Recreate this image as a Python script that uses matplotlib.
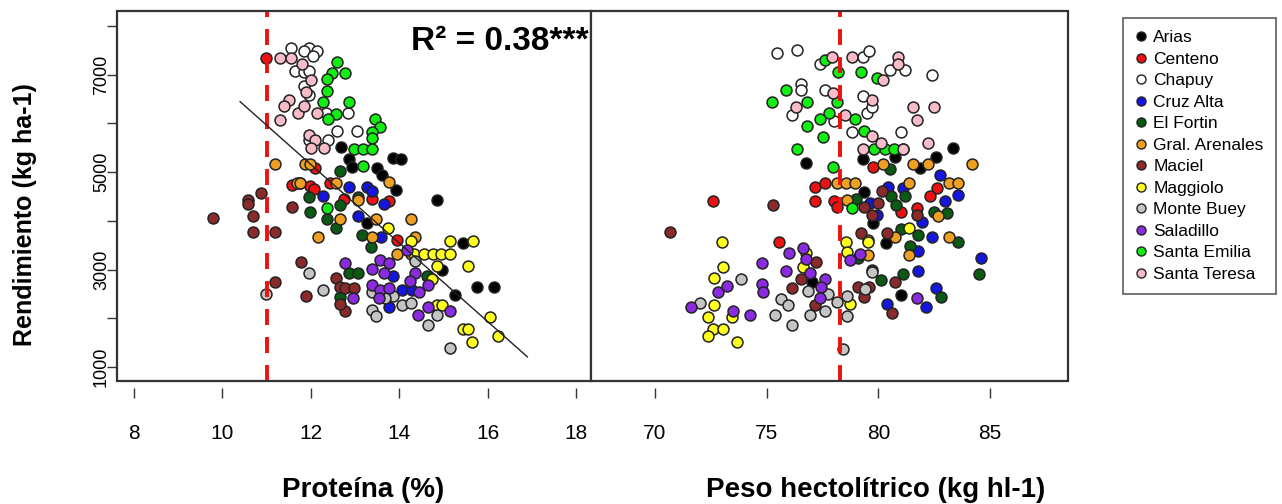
import matplotlib

matplotlib.use("Agg")
import matplotlib.pyplot as plt  # noqa: E402
from matplotlib.lines import Line2D  # noqa: E402
from matplotlib.patches import Rectangle  # noqa: E402

plt.rcParams["font.family"] = ["Liberation Sans", "DejaVu Sans"]

LOCATIONS = ["Arias", "Centeno", "Chapuy", "Cruz Alta", "El Fortin", "Gral. Arenales",
             "Maciel", "Maggiolo", "Monte Buey", "Saladillo", "Santa Emilia", "Santa Teresa"]

# (protein %, yield kg/ha) per location
PROT_ARIAS = [(12.68, 5520), (12.86, 5260), (12.93, 5110), (13.86, 5300), (14.04, 5280),
              (13.5, 5090), (13.61, 4950), (13.93, 4640), (14.86, 4430), (13.27, 3960),
              (14.97, 3000), (15.44, 3550), (15.76, 2650), (16.14, 2650), (15.26, 2480)]
PROT_CENTENO = [(10.99, 7350), (11.57, 4740), (11.76, 4780), (11.98, 4720), (12.07, 4660),
                (12.1, 5090), (12.43, 4780), (12.75, 4450), (13.38, 4450), (13.77, 4410),
                (13.95, 3610)]
PROT_CHAPUY = [(11.55, 7540), (11.95, 7540), (12.15, 7490), (11.85, 7490), (12.05, 7390),
               (11.65, 7080), (11.85, 7060), (11.95, 7080), (11.85, 6770), (11.95, 6590),
               (12.35, 6220), (12.85, 6220), (12.6, 5850), (13.05, 5850), (11.95, 5660),
               (12.4, 5660)]
PROT_CRUZ_ALTA = [(12.28, 4520), (12.86, 4700), (13.27, 4700), (13.38, 4620), (13.66, 4350),
                  (13.07, 4090), (13.59, 3670), (13.86, 2870), (14.06, 2590), (14.29, 2590),
                  (13.77, 2240)]
PROT_EL_FORTIN = [(12.66, 5030), (11.96, 4480), (11.98, 4190), (12.37, 4040), (12.57, 3860),
                  (12.66, 4330), (13.07, 4480), (13.16, 3720), (13.36, 3470), (12.86, 2940),
                  (13.07, 2940), (12.66, 2440), (14.63, 2870)]
PROT_ARENALES = [(11.19, 5170), (11.87, 5170), (11.98, 5170), (11.69, 4780), (11.76, 4780),
                 (12.57, 4780), (13.77, 4800), (13.07, 4430), (12.66, 4040), (12.16, 3670),
                 (13.48, 4040), (14.27, 4040), (13.38, 3670), (14.36, 3670), (13.95, 3330),
                 (14.27, 3330)]
PROT_MACIEL = [(9.79, 4060), (10.58, 4430), (10.58, 4350), (10.87, 4580), (10.69, 4110),
               (10.69, 3780), (11.19, 3780), (11.57, 4290), (11.78, 3160), (11.19, 2750),
               (11.89, 2460), (12.57, 2830), (12.66, 2650), (12.77, 2630), (12.98, 2630),
               (12.77, 2140), (12.66, 2300)]
PROT_MAGGIOLO = [(13.75, 3860), (14.27, 3590), (15.15, 3590), (15.67, 3590), (14.33, 3330),
                 (14.56, 3330), (14.76, 3330), (14.95, 3330), (15.15, 3330), (14.86, 3080),
                 (15.56, 3080), (14.74, 2810), (14.86, 2280), (14.97, 2280), (16.05, 2030),
                 (15.44, 1790), (15.56, 1790), (15.65, 1520), (16.24, 1640)]
PROT_MONTE_BUEY = [(10.99, 2500), (11.96, 2940), (12.28, 2590), (13.38, 2530), (13.38, 2180),
                   (13.48, 2050), (13.86, 2460), (14.06, 2280), (14.27, 2320), (14.36, 3180),
                   (14.65, 1870), (14.86, 2070), (15.15, 1400), (13.68, 2420)]
PROT_SALADILLO = [(12.77, 3140), (13.38, 3020), (13.57, 3200), (13.77, 3140), (14.18, 3410),
                  (13.66, 2940), (14.36, 2940), (13.38, 2690), (13.57, 2590), (13.77, 2630),
                  (12.95, 2420), (13.54, 2420), (14.45, 2530), (14.65, 2690), (14.43, 2070),
                  (14.65, 2240), (15.15, 2140), (14.24, 2770)]
PROT_SANTA_EMILIA = [(12.59, 7270), (12.48, 7040), (12.77, 7040), (12.37, 6920), (12.37, 6670),
                     (12.28, 6450), (12.86, 6450), (12.57, 6200), (12.39, 6100), (13.45, 6100),
                     (13.57, 5930), (13.38, 5830), (13.38, 5710), (12.98, 5480), (13.18, 5480),
                     (13.38, 5480), (13.18, 5130), (12.37, 4270)]
PROT_SANTA_TERESA = [(11.3, 7350), (11.55, 7350), (11.8, 7220), (12.0, 6900), (11.9, 6640),
                     (11.5, 6490), (11.4, 6350), (11.7, 6220), (11.3, 6080), (11.85, 6350),
                     (12.15, 6220), (11.95, 5770), (12.1, 5650), (12.0, 5500), (12.3, 5500)]

# (hectolitre weight kg/hl, yield kg/ha) per location
PH_ARIAS = [(76.77, 5190), (79.33, 5260), (80.76, 5320), (82.56, 5320), (83.32, 5500),
            (81.84, 5090), (79.37, 4600), (79.78, 3960), (80.36, 3550), (80.99, 2480),
            (77.04, 2750)]
PH_CENTENO = [(72.6, 4410), (75.56, 3570), (77.17, 4700), (77.62, 4780), (77.17, 4410),
              (78.03, 4410), (78.16, 4290), (79.78, 5110), (82.6, 4680), (82.33, 4520),
              (81.03, 4190), (81.75, 4270)]
PH_CHAPUY = [(75.47, 7450), (76.37, 7510), (77.4, 7230), (79.33, 7370), (79.6, 7490),
             (76.55, 6800), (76.55, 6690), (77.62, 6690), (76.14, 6180), (78.03, 6060),
             (78.83, 5830), (79.33, 6570), (79.51, 6220), (79.73, 6340), (80.54, 7100),
             (81.21, 7100), (82.38, 7000), (80.99, 5830), (81.12, 5480)]
PH_CRUZ_ALTA = [(82.74, 4950), (80.45, 4700), (81.12, 4680), (83.0, 4410), (83.54, 4540),
                (81.97, 3980), (82.42, 3670), (81.79, 3390), (84.57, 3240), (81.79, 2980),
                (82.56, 2630), (80.4, 2300), (82.15, 2240), (79.64, 4370), (79.96, 4130)]
PH_EL_FORTIN = [(80.54, 5070), (80.58, 4520), (81.21, 4520), (80.81, 4330), (79.01, 4450),
                (83.09, 4170), (82.51, 4190), (80.99, 3840), (81.79, 3720), (83.54, 3570),
                (81.43, 3490), (80.13, 2790), (81.12, 2910), (79.73, 3000), (82.78, 2440),
                (84.48, 2910), (79.1, 3240)]
PH_ARENALES = [(78.16, 4780), (78.57, 4780), (78.97, 4780), (78.61, 4430), (80.22, 5170),
               (81.57, 5170), (82.2, 5170), (84.17, 5170), (81.35, 4780), (83.14, 4780),
               (83.54, 4780), (82.65, 4090), (83.14, 3670), (80.76, 3670), (79.55, 3610),
               (79.55, 3300), (81.35, 3300)]
PH_MACIEL = [(70.67, 3780), (75.29, 4330), (77.22, 3160), (76.55, 2810), (76.14, 2630),
             (77.17, 2280), (80.18, 4620), (79.37, 4290), (80.0, 4370), (79.73, 4130),
             (81.75, 4130), (79.24, 3760), (80.4, 3760), (80.76, 2750), (79.1, 2650),
             (79.6, 2650), (79.37, 2440), (80.63, 2110)]
PH_MAGGIOLO = [(73.0, 3570), (73.05, 3060), (72.65, 2830), (72.65, 2280), (72.38, 2030),
               (73.45, 2030), (72.6, 1790), (73.05, 1790), (72.38, 1640), (73.68, 1520),
               (76.64, 3060), (76.77, 3350), (78.57, 3570), (78.61, 3370), (78.74, 2300),
               (79.55, 3570), (81.35, 3860)]
PH_MONTE_BUEY = [(72.02, 2320), (73.86, 2810), (75.65, 2400), (75.96, 2280), (75.38, 2070),
                 (76.14, 1870), (76.86, 2570), (76.95, 2070), (77.62, 2160), (77.76, 2500),
                 (78.16, 2340), (78.61, 2460), (78.61, 2050), (78.43, 1380), (79.73, 2960),
                 (79.42, 2610)]
PH_SALADILLO = [(71.61, 2240), (72.83, 2550), (73.23, 2670), (73.5, 2160), (74.26, 2070),
                (74.8, 3140), (74.8, 2710), (74.84, 2530), (75.87, 2980), (76.01, 3350),
                (76.64, 3450), (76.77, 3220), (76.95, 2940), (77.62, 2810), (77.44, 2650),
                (77.4, 2420), (78.74, 3200), (79.19, 3330), (81.75, 2420)]
PH_SANTA_EMILIA = [(77.62, 7310), (78.21, 7060), (79.24, 7060), (79.96, 6940), (75.87, 6690),
                   (75.25, 6450), (76.82, 6450), (78.16, 6450), (77.8, 6220), (77.4, 6100),
                   (78.97, 6100), (76.82, 5950), (77.53, 5730), (79.37, 5850), (79.82, 5480),
                   (80.31, 5480), (80.72, 5480), (76.37, 5480), (77.98, 5110), (78.83, 4270)]
PH_SANTA_TERESA = [(77.94, 7370), (78.83, 7370), (80.9, 7370), (80.9, 7230), (80.22, 6900),
                   (77.98, 6630), (76.32, 6340), (79.73, 6490), (78.52, 6180), (81.57, 6340),
                   (82.51, 6340), (81.75, 6080), (79.73, 5750), (80.13, 5600), (79.33, 5480),
                   (81.12, 5480), (82.2, 5600)]

PROT_THRESHOLD = 11.0
PH_THRESHOLD = 78.3
FIT_INTERCEPT = 14830.0
FIT_SLOPE = -806.0
FIT_RANGE = [10.4, 16.9]
R2_LABEL = "R² = 0.38***"

PROT_TICKS = [8, 10, 12, 14, 16, 18]
PH_TICKS = [70, 75, 80, 85]
YIELD_TICKS = [1000, 2000, 3000, 4000, 5000, 6000, 7000, 8000]
YIELD_LABELS = ["1000", "", "3000", "", "5000", "", "7000", ""]

COLORS = {
    "Arias": "#000000", "Centeno": "#ee1111", "Chapuy": "#ffffff", "Cruz Alta": "#1515e0",
    "El Fortin": "#0a5a14", "Gral. Arenales": "#f0a020", "Maciel": "#8b2a2a",
    "Maggiolo": "#ffff22", "Monte Buey": "#c4c4c4", "Saladillo": "#8a2be2",
    "Santa Emilia": "#11ee11", "Santa Teresa": "#f8bcc8",
}

prot_data = dict(zip(LOCATIONS, [PROT_ARIAS, PROT_CENTENO, PROT_CHAPUY, PROT_CRUZ_ALTA,
                                 PROT_EL_FORTIN, PROT_ARENALES, PROT_MACIEL, PROT_MAGGIOLO,
                                 PROT_MONTE_BUEY, PROT_SALADILLO, PROT_SANTA_EMILIA,
                                 PROT_SANTA_TERESA]))
ph_data = dict(zip(LOCATIONS, [PH_ARIAS, PH_CENTENO, PH_CHAPUY, PH_CRUZ_ALTA, PH_EL_FORTIN,
                               PH_ARENALES, PH_MACIEL, PH_MAGGIOLO, PH_MONTE_BUEY,
                               PH_SALADILLO, PH_SANTA_EMILIA, PH_SANTA_TERESA]))

FRAME = "#333333"
W, H = 1282, 504

fig = plt.figure(figsize=(W / 100, H / 100), dpi=100)
ax1 = fig.add_axes([117 / W, 1 - 381 / H, 474 / W, 370 / H])
ax2 = fig.add_axes([591 / W, 1 - 381 / H, 477 / W, 370 / H])


def style_axis(ax, xticks, xlim):
    for sp in ax.spines.values():
        sp.set_visible(False)
    ax.spines["bottom"].set_position(("outward", 5))
    ax.add_patch(Rectangle((0, 0), 1, 1, transform=ax.transAxes, fill=False,
                           edgecolor=FRAME, linewidth=1.6, clip_on=False, zorder=6))
    ax.set_xlim(*xlim)
    ax.set_ylim(713, 8308)
    ax.set_xticks(xticks)
    ax.tick_params(axis="x", direction="out", length=7, width=1, color=FRAME,
                   pad=19, labelsize=15)


def scatter_groups(ax, data):
    for loc in LOCATIONS:
        xs = [p[0] for p in data[loc]]
        ys = [p[1] for p in data[loc]]
        ax.scatter(xs, ys, s=62, c=COLORS[loc], edgecolors="#222222", linewidths=1.1,
                   zorder=3)


# left panel: protein
style_axis(ax1, PROT_TICKS, (7.615, 18.34))
scatter_groups(ax1, prot_data)
ax1.axvline(PROT_THRESHOLD, color="#ee1111", linewidth=2.8, dashes=(4.1, 3.1), zorder=4)
ax1.plot(FIT_RANGE, [FIT_INTERCEPT + FIT_SLOPE * x for x in FIT_RANGE], color="#222222",
         linewidth=1.0, zorder=5)
ax1.set_yticks(YIELD_TICKS)
ax1.set_yticklabels(YIELD_LABELS, rotation=90, va="center")
ax1.tick_params(axis="y", direction="out", length=7, width=1, color=FRAME, pad=-2,
                labelsize=13)
ax1.text(0.995, 0.96, R2_LABEL, transform=ax1.transAxes, ha="right", va="top",
         fontsize=24, fontweight="bold", zorder=7)
ax1.set_xlabel("Proteína (%)", fontsize=20, fontweight="bold", va="center")
ax1.xaxis.set_label_coords((363 - 117) / 474, (381 - 490) / 370)
ax1.set_ylabel("Rendimiento (kg ha-1)", fontsize=18, fontweight="bold", va="center")
ax1.yaxis.set_label_coords((25 - 117) / 474, (381 - 215) / 370)

# right panel: hectolitre weight
style_axis(ax2, PH_TICKS, (67.15, 88.48))
scatter_groups(ax2, ph_data)
ax2.axvline(PH_THRESHOLD, color="#ee1111", linewidth=2.8, dashes=(4.1, 3.1), zorder=4)
ax2.tick_params(axis="y", left=False, labelleft=False)
ax2.set_xlabel("Peso hectolítrico (kg hl-1)", fontsize=20, fontweight="bold", va="center")
ax2.xaxis.set_label_coords((876 - 591) / 477, (381 - 490) / 370)

handles = [Line2D([], [], linestyle="none", marker="o", markersize=6.5,
                  markerfacecolor=COLORS[loc], markeredgecolor="#222222",
                  markeredgewidth=1.0) for loc in LOCATIONS]
leg = fig.legend(handles, LOCATIONS, loc="upper left",
                 bbox_to_anchor=(1123 / W, 1 - 18 / H), fontsize=12.5, frameon=True,
                 fancybox=False, edgecolor=FRAME, handlelength=0.7, handletextpad=0.35,
                 labelspacing=0.365, borderpad=0.7, borderaxespad=0)
leg.get_frame().set_linewidth(1.2)

fig.savefig("out.png", dpi=100)
